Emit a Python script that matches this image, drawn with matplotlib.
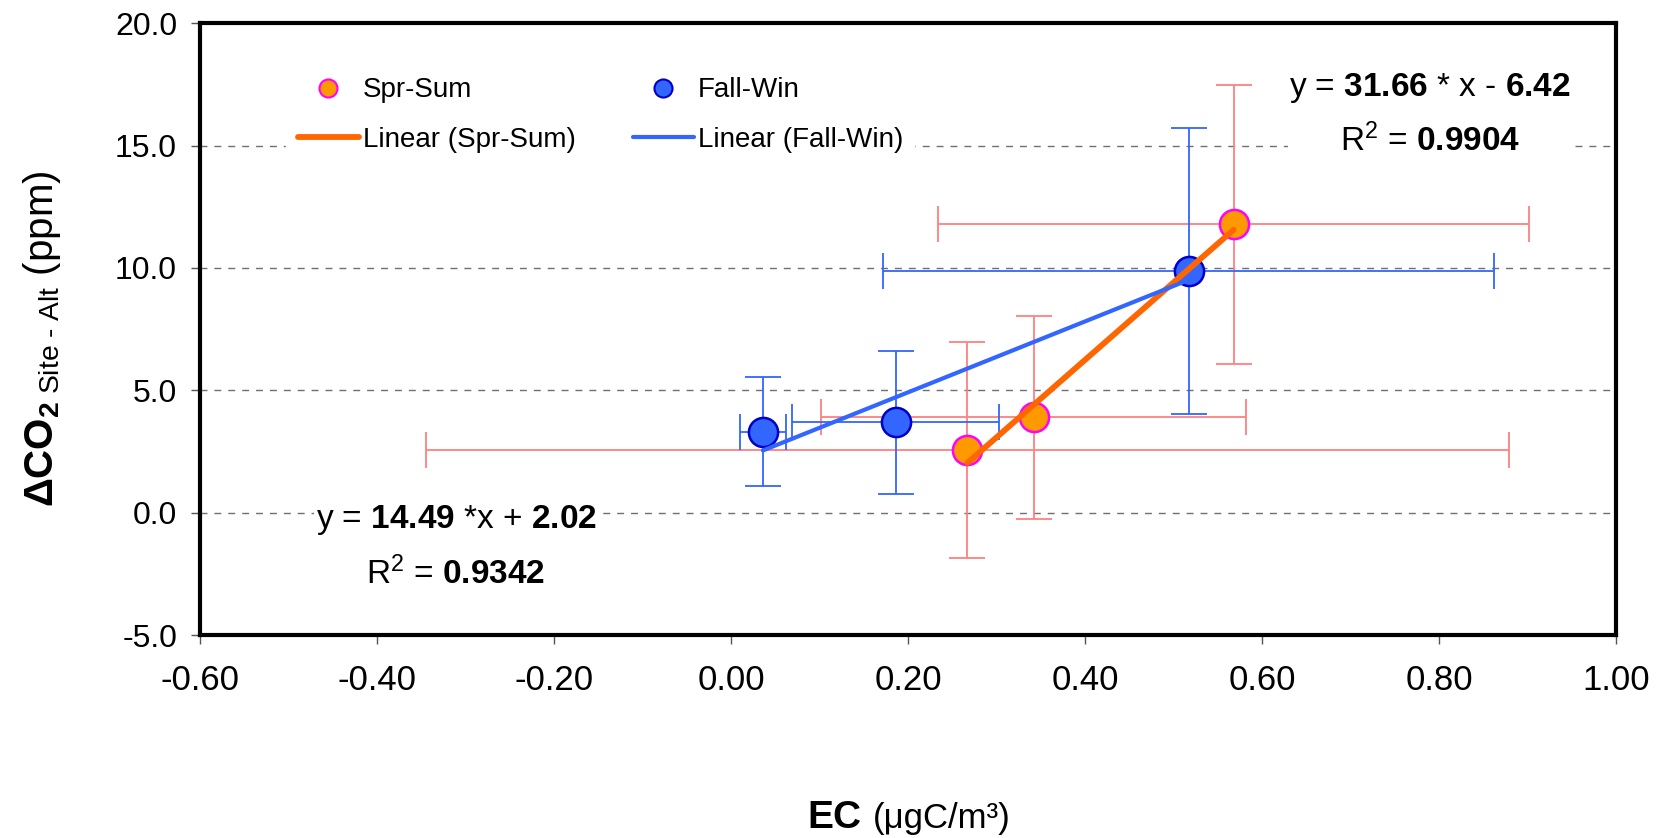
import matplotlib.pyplot as plt
from matplotlib.lines import Line2D
from matplotlib.ticker import FormatStrFormatter

plt.rcParams['font.family'] = ['Liberation Sans', 'DejaVu Sans']
plt.rcParams['mathtext.fontset'] = 'custom'
plt.rcParams['mathtext.rm'] = 'Liberation Sans'
plt.rcParams['mathtext.it'] = 'Liberation Sans:italic'
plt.rcParams['mathtext.bf'] = 'Liberation Sans:bold'
plt.rcParams['axes.unicode_minus'] = False

# Spring-summer points
ss_x = [0.267, 0.342, 0.568]
ss_y = [2.56, 3.90, 11.78]
ss_xerr = [0.612, 0.240, 0.334]
ss_yerr = [4.42, 4.15, 5.71]

# Fall-winter points
fw_x = [0.036, 0.186, 0.517]
fw_y = [3.31, 3.69, 9.88]
fw_xerr = [0.026, 0.117, 0.345]
fw_yerr = [2.22, 2.93, 5.84]

# linear fits (slope, intercept, r2)
ss_fit = (31.66, -6.42, 0.9904)
fw_fit = (14.49, 2.02, 0.9342)

x_ticks = [-0.6, -0.4, -0.2, 0.0, 0.2, 0.4, 0.6, 0.8, 1.0]
y_ticks = [-5, 0, 5, 10, 15, 20]

c_ss_face, c_ss_edge, c_ss_err, c_ss_line = '#FF9900', '#FF00FF', '#FF8080', '#FF6600'
c_fw_face, c_fw_edge, c_fw_line = '#3366FF', '#0000CC', '#3366FF'

fig = plt.figure(figsize=(16.71, 8.38), dpi=100)
ax = fig.add_axes([0.1197, 0.2422, 0.8474, 0.7300])

ax.set_xlim(x_ticks[0], x_ticks[-1])
ax.set_ylim(y_ticks[0], y_ticks[-1])
ax.set_xticks(x_ticks)
ax.set_yticks(y_ticks)
ax.xaxis.set_major_formatter(FormatStrFormatter('%.2f'))
ax.yaxis.set_major_formatter(FormatStrFormatter('%.1f'))

# dashed horizontal grid
for yv in y_ticks[1:-1]:
    ax.axhline(yv, color='#707070', lw=1.0, dashes=(5, 5), zorder=0)

# error bars
ax.errorbar(ss_x, ss_y, xerr=ss_xerr, yerr=ss_yerr, fmt='none', ecolor=c_ss_err,
            elinewidth=1.3, capsize=13, capthick=1.3, zorder=2)
ax.errorbar(fw_x, fw_y, xerr=fw_xerr, yerr=fw_yerr, fmt='none', ecolor=c_fw_line,
            elinewidth=1.3, capsize=13, capthick=1.3, zorder=2)

# markers
ax.plot(ss_x, ss_y, 'o', ms=21, mfc=c_ss_face, mec=c_ss_edge, mew=1.8, zorder=3)
ax.plot(fw_x, fw_y, 'o', ms=21, mfc=c_fw_face, mec=c_fw_edge, mew=1.8, zorder=3)

# trend lines over the data range
ss_lx = [min(ss_x), max(ss_x)]
fw_lx = [min(fw_x), max(fw_x)]
ax.plot(ss_lx, [ss_fit[0] * v + ss_fit[1] for v in ss_lx], color=c_ss_line,
        lw=4.2, solid_capstyle='round', zorder=4)
ax.plot(fw_lx, [fw_fit[0] * v + fw_fit[1] for v in fw_lx], color=c_fw_line,
        lw=3, solid_capstyle='round', zorder=4)

# frame and ticks
for s in ax.spines.values():
    s.set_linewidth(3)
    s.set_color('black')
ax.tick_params(direction='out', length=6.5, width=1, color='#555555')
ax.tick_params(axis='x', labelsize=25, pad=14)
ax.tick_params(axis='y', labelsize=23, pad=10)

# legend
handles = [
    Line2D([], [], ls='none', marker='o', ms=13, mfc=c_ss_face, mec=c_ss_edge, mew=1.5),
    Line2D([], [], color=c_ss_line, lw=4.2, solid_capstyle='round'),
    Line2D([], [], ls='none', marker='o', ms=13, mfc=c_fw_face, mec=c_fw_edge, mew=1.5),
    Line2D([], [], color=c_fw_line, lw=3, solid_capstyle='round'),
]
labels = ['Spr-Sum', 'Linear (Spr-Sum)', 'Fall-Win', 'Linear (Fall-Win)']
leg = ax.legend(handles, labels, ncol=2, loc='upper left', bbox_to_anchor=(0.061, 0.930),
                borderaxespad=0, fontsize=20, frameon=True, fancybox=False,
                edgecolor='white', facecolor='white', framealpha=1,
                handlelength=2.2, handletextpad=0.15, columnspacing=2.05,
                labelspacing=0.85, borderpad=0.4)
leg.set_zorder(5)

# fit equations
box = dict(fc='white', ec='none', pad=1)
ax.text(0.8686, 0.8507,
        'y = $\\mathbf{%.2f}$ * x - $\\mathbf{%.2f}$\nR$^2$ = $\\mathbf{%.4f}$'
        % (ss_fit[0], -ss_fit[1], ss_fit[2]),
        transform=ax.transAxes, ha='center', va='center', multialignment='center',
        fontsize=24, linespacing=1.7, bbox=box, zorder=5)
ax.text(0.1808, 0.1439,
        'y = $\\mathbf{%.2f}$ *x + $\\mathbf{%.2f}$\nR$^2$ = $\\mathbf{%.4f}$'
        % (fw_fit[0], fw_fit[1], fw_fit[2]),
        transform=ax.transAxes, ha='center', va='center', multialignment='center',
        fontsize=24, linespacing=1.7, bbox=box, zorder=5)

# axis titles
ax.set_ylabel('$\\mathbf{\\Delta CO}_{\\mathbf{2}\\ \\text{Site - Alt}}$ (ppm)', fontsize=29)
ax.yaxis.set_label_coords(-0.097, 0.485)
fig.text(861 / 1671, 0.012, 'EC', ha='right', va='baseline', fontsize=28, fontweight='bold')
fig.text(873 / 1671, 0.012, '(\u03bcgC/m\u00b3)', ha='left', va='baseline', fontsize=25)

fig.savefig('out.png', dpi=100)
